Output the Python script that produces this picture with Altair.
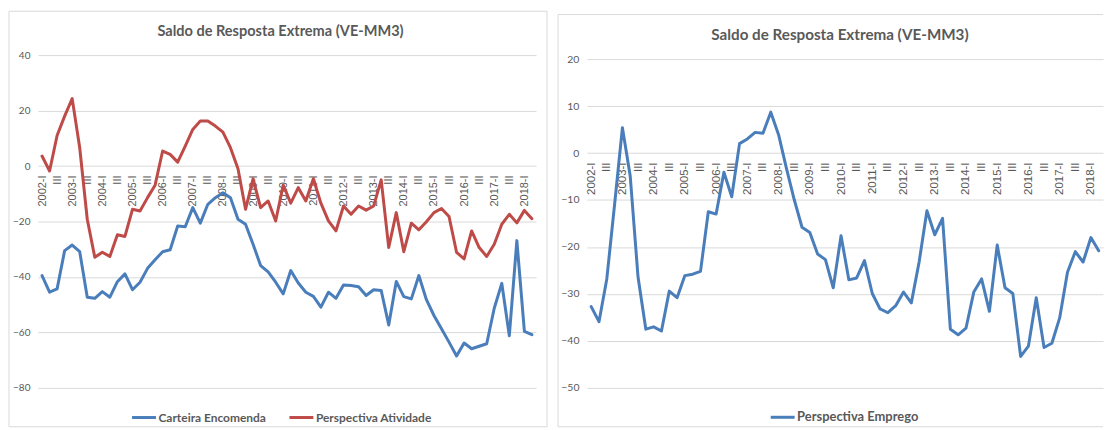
import altair as alt
import pandas as pd

# ---------------- data ----------------
years = [str(y) for y in range(2002, 2019)]
quarters = ["I", "II", "III", "IV"]
periods = [f"{y}-{q}" for y in years for q in quarters][:66]  # 2002-I .. 2018-II

carteira = [
    -39.5, -45.5, -44.3, -30.5,
    -28.5, -30.9, -47.3, -47.7,
    -45.3, -47.3, -41.7, -38.9,
    -44.6, -41.9, -36.9, -33.8,
    -30.9, -30.2, -21.6, -21.9,
    -15.0, -20.6, -13.8, -11.4,
    -9.6, -11.4, -19.2, -21.0,
    -28.2, -35.9, -38.2, -41.9,
    -46.1, -37.7, -42.2, -45.5,
    -47.0, -50.9, -45.5, -47.7,
    -42.9, -43.1, -43.5, -46.7,
    -44.6, -44.9, -57.3, -41.6,
    -47.1, -47.9, -39.5, -48.2,
    -53.9, -58.7, -63.5, -68.5,
    -63.8, -65.9, -65.0, -64.1,
    -51.3, -42.3, -61.2, -26.9,
    -59.6, -60.8,
]
atividade = [
    3.6, -1.8, 11.0, 18.0,
    24.3, 6.6, -19.2, -32.9,
    -31.1, -32.6, -24.8, -25.4,
    -15.6, -16.2, -11.4, -6.9,
    5.4, 4.2, 1.4, 7.2,
    13.2, 16.2, 16.2, 14.4,
    12.2, 6.6, -1.0, -15.6,
    -4.6, -15.0, -12.6, -19.8,
    -6.9, -13.4, -7.8, -12.6,
    -4.6, -13.4, -19.8, -23.4,
    -14.4, -17.4, -14.4, -15.9,
    -14.4, -5.0, -29.4, -16.8,
    -30.9, -20.6, -23.0, -20.1,
    -16.8, -15.3, -18.2, -31.1,
    -33.5, -23.4, -29.4, -32.6,
    -28.2, -21.0, -17.4, -20.5,
    -16.0, -19.0,
]
emprego = [
    -32.7, -35.9, -26.8, -10.9,
    5.4, -4.9, -26.4, -37.5,
    -37.0, -37.9, -29.4, -30.8,
    -26.1, -25.8, -25.2, -12.5,
    -13.0, -4.1, -9.3, 2.0,
    3.0, 4.4, 4.2, 8.7,
    3.9, -3.2, -9.9, -15.8,
    -16.9, -21.5, -22.7, -28.7,
    -17.6, -27.0, -26.6, -22.9,
    -29.9, -33.2, -34.0, -32.5,
    -29.6, -31.9, -23.2, -12.3,
    -17.4, -13.9, -37.5, -38.7,
    -37.3, -29.6, -26.8, -33.7,
    -19.6, -28.7, -29.9, -43.3,
    -41.1, -30.8, -41.4, -40.5,
    -35.1, -25.4, -21.0, -23.2,
    -18.0, -20.8,
]

series_left = ["Carteira Encomenda", "Perspectiva Atividade"]
series_right = ["Perspectiva Emprego"]
colors_left = ["#4A7EBB", "#BE4B48"]
colors_right = ["#4A7EBB"]
title_text = "Saldo de Resposta Extrema (VE-MM3)"

left_df = pd.DataFrame({
    "periodo": periods * 2,
    "valor": carteira + atividade,
    "serie": [series_left[0]] * len(periods) + [series_left[1]] * len(periods),
})
right_df = pd.DataFrame({
    "periodo": periods,
    "valor": emprego,
    "serie": [series_right[0]] * len(periods),
})
one = pd.DataFrame({"k": [0]})

TXT = "#595959"
GRID = "#d9d9d9"
label_expr = ("slice(datum.value, 5) == 'I' ? datum.value : "
              "(slice(datum.value, 5) == 'III' ? 'III' : '')")


def panel(df, series, colors, ymin, ymax, ystep, ytop, W, H, legx, legy,
          title_xy, fs, leg_fs, col_pad):
    zero_px = ytop / (ytop - ymin) * H
    x_enc = alt.X(
        "periodo:N",
        sort=periods,
        scale=alt.Scale(type="point", domain=periods, padding=0.55),
        axis=alt.Axis(
            title=None, grid=False, domain=False, ticks=False,
            labelAngle=270, labelPadding=9, labelFontSize=11 * fs,
            labelFont="Liberation Sans", labelColor=TXT,
            labelExpr=label_expr, labelOverlap=False,
            offset=-(H - zero_px),
        ),
    )
    y_enc = alt.Y(
        "valor:Q",
        scale=alt.Scale(domain=[ymin, ytop], nice=False, zero=False),
        axis=alt.Axis(
            title=None, values=list(range(ymin, ymax + 1, ystep)),
            domain=False, ticks=False, labelPadding=8, labelFontSize=10 * fs,
            labelFont="Lato", labelColor=TXT, gridColor=GRID, gridWidth=1,
        ),
    )
    lines = alt.Chart(df).mark_line(
        strokeWidth=3, strokeJoin="round", strokeCap="round"
    ).encode(
        x=x_enc,
        y=y_enc,
        color=alt.Color(
            "serie:N",
            scale=alt.Scale(domain=series, range=colors),
            legend=alt.Legend(
                title=None, orient="none", direction="horizontal",
                legendX=legx, legendY=legy, symbolType="stroke",
                symbolSize=576, symbolStrokeWidth=3, labelOffset=1,
                columnPadding=col_pad, labelFont="Lato",
                labelFontSize=leg_fs,
                labelFontWeight="bold", labelColor=TXT,
            ),
        ),
    )
    title = alt.Chart(one).mark_text(
        font="Lato", fontSize=14.6 * fs, fontWeight="bold", color=TXT,
        align="center", baseline="middle",
    ).encode(x=alt.value(title_xy[0]), y=alt.value(title_xy[1]),
             text=alt.value(title_text))
    return lines, title


# ---------- left panel ----------
W1, H1 = 500, 334
l_lines, l_title = panel(left_df, series_left, colors_left, -80, 40, 20, 40,
                         W1, H1, 93, 350, (243.5, -23.3), 1.0, 12, 16)
l_frame = alt.Chart(one).mark_rect(fill="white", fillOpacity=0, stroke=GRID,
                                   strokeWidth=1).encode(
    x=alt.value(-29), x2=alt.value(511), y=alt.value(-44), y2=alt.value(373))
left = alt.layer(l_frame, l_lines, l_title).properties(width=W1, height=H1)

# ---------- right panel ----------
W2, H2 = 518, 334
r_lines, r_title = panel(right_df, series_right, colors_right, -50, 20, 10,
                         20.85, W2, H2, 183, 350, (254, -20.5), 1.045,
                         12.96, 16)
r_left = alt.Chart(one).mark_rule(color=GRID, strokeWidth=1).encode(
    x=alt.value(-29), y=alt.value(-40.7), y2=alt.value(373))
r_top = alt.Chart(one).mark_rule(color=GRID, strokeWidth=1).encode(
    x=alt.value(-29), x2=alt.value(W2), y=alt.value(-40.7))
r_bot = alt.Chart(one).mark_rule(color=GRID, strokeWidth=1).encode(
    x=alt.value(-29), x2=alt.value(W2), y=alt.value(373))
right = alt.layer(r_left, r_top, r_bot, r_lines, r_title).properties(
    width=W2, height=H2)

chart = alt.hconcat(left, right, spacing=9).resolve_scale(
    color="independent"
).resolve_legend(color="independent").properties(
    padding={"left": 0, "top": 1.5, "right": 0, "bottom": 0},
    background="white",
).configure_view(stroke=None)

chart.save("out.html", embed_options={"renderer": "svg", "actions": False})
